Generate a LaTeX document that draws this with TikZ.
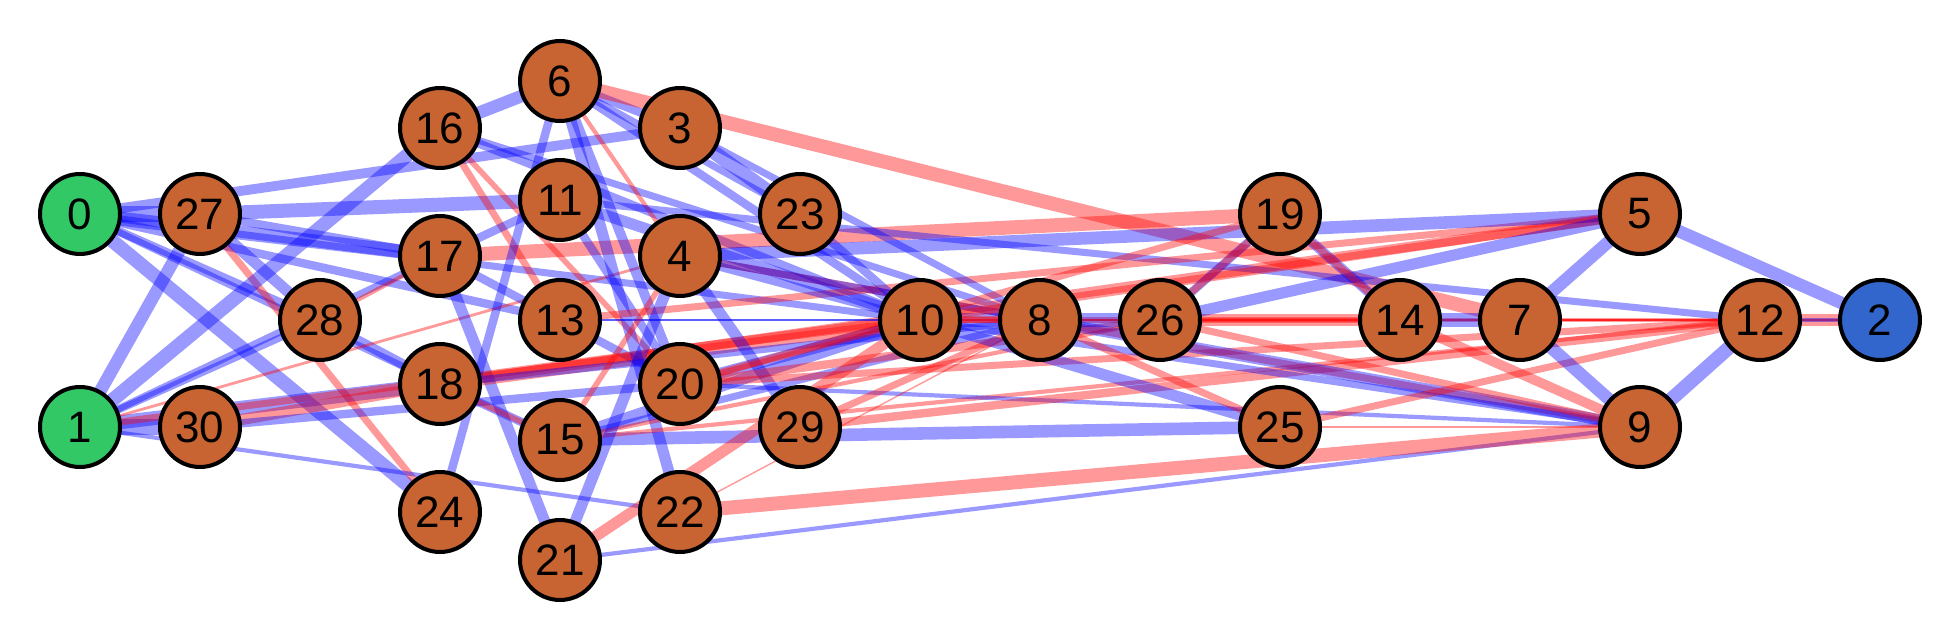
\documentclass[tikz,border=0pt]{standalone}
\usepackage{fontspec}
\setmainfont{Liberation Sans}
\pgfdeclarelayer{bg}
\pgfsetlayers{bg,main}
\definecolor{nodeor}{RGB}{200,100,50}
\definecolor{nodegr}{RGB}{51,200,102}
\definecolor{nodebl}{RGB}{51,102,204}
\tikzset{
  vtx/.style={circle, draw=black, line width=2pt, minimum size=40pt, inner sep=0pt, fill=nodeor, font=\fontsize{22}{24}\selectfont},
  src/.style={vtx, fill=nodegr},
  snk/.style={vtx, fill=nodebl},
  eb/.style={draw=blue, draw opacity=0.4, line width=#1*0.7pt},
  er/.style={draw=red, draw opacity=0.4, line width=#1*0.7pt}
}
\begin{document}
\begin{tikzpicture}[x=0.5pt,y=-0.5pt]
\useasboundingbox (0,0) rectangle (1960,640);
% nodes
\node[src] (n0) at (80,214) {0};
\node[src] (n1) at (80,427) {1};
\node[vtx] (n27) at (200,214) {27};
\node[vtx] (n30) at (200,427) {30};
\node[vtx] (n28) at (320,320) {28};
\node[vtx] (n16) at (440,128) {16};
\node[vtx] (n17) at (440,256) {17};
\node[vtx] (n18) at (440,384) {18};
\node[vtx] (n24) at (440,512) {24};
\node[vtx] (n6) at (560,81) {6};
\node[vtx] (n11) at (560,200) {11};
\node[vtx] (n13) at (560,320) {13};
\node[vtx] (n15) at (560,440) {15};
\node[vtx] (n21) at (560,560) {21};
\node[vtx] (n3) at (680,128) {3};
\node[vtx] (n4) at (680,256) {4};
\node[vtx] (n20) at (680,384) {20};
\node[vtx] (n22) at (680,512) {22};
\node[vtx] (n23) at (800,214) {23};
\node[vtx] (n29) at (800,427) {29};
\node[vtx] (n10) at (920,320) {10};
\node[vtx] (n8) at (1040,320) {8};
\node[vtx] (n26) at (1160,320) {26};
\node[vtx] (n19) at (1280,214) {19};
\node[vtx] (n25) at (1280,427) {25};
\node[vtx] (n14) at (1400,320) {14};
\node[vtx] (n7) at (1520,320) {7};
\node[vtx] (n5) at (1640,214) {5};
\node[vtx] (n9) at (1640,427) {9};
\node[vtx] (n12) at (1760,320) {12};
\node[snk] (n2) at (1880,320) {2};
\begin{pgfonlayer}{bg}
% left block
\draw[eb=12] (n0.center) -- (n27.center);
\draw[eb=7] (n0.center) -- (n3.center);
\draw[eb=10] (n27.center) -- (n11.center);
\draw[eb=10] (n0.center) -- (n17.center);
\draw[eb=6] (n27.center) -- (n17.center);
\draw[eb=6] (n0.center) -- (n13.center);
\draw[eb=6] (n0.center) -- (n28.center);
\draw[eb=10] (n0.center) -- (n24.center);
\draw[eb=5] (n0.center) -- (n18.center);
\draw[eb=5] (n0.center) -- (n10.center);
\draw[er=5] (n27.center) -- (n24.center);
\draw[eb=8] (n27.center) -- (n28.center);
\draw[eb=7] (n28.center) -- (n18.center);
\draw[eb=9] (n1.center) -- (n27.center);
\draw[eb=10] (n1.center) -- (n16.center);
\draw[eb=5] (n1.center) -- (n28.center);
\draw[eb=5] (n1.center) -- (n17.center);
\draw[eb=12] (n1.center) -- (n30.center);
\draw[eb=10] (n1.center) -- (n18.center);
\draw[er=8] (n30.center) -- (n18.center);
\draw[er=2] (n1.center) -- (n4.center);
\draw[eb=3] (n1.center) -- (n22.center);
\draw[eb=6] (n30.center) -- (n20.center);
\draw[er=5] (n1.center) -- (n10.center);
\draw[er=3] (n28.center) -- (n17.center);
% 16 / 17 / 18 / 24
\draw[eb=9] (n16.center) -- (n6.center);
\draw[eb=6] (n16.center) -- (n10.center);
\draw[er=5] (n16.center) -- (n13.center);
\draw[er=4] (n16.center) -- (n20.center);
\draw[eb=5] (n16.center) -- (n8.center);
\draw[eb=6] (n17.center) -- (n11.center);
\draw[er=10] (n17.center) -- (n19.center);
\draw[eb=8] (n17.center) -- (n21.center);
\draw[eb=6] (n17.center) -- (n20.center);
\draw[eb=6] (n18.center) -- (n15.center);
\draw[er=4] (n18.center) -- (n15.center);
\draw[er=10] (n18.center) -- (n10.center);
\draw[er=7] (n18.center) -- (n5.center);
\draw[eb=5] (n18.center) -- (n8.center);
\draw[eb=6] (n24.center) -- (n6.center);
% 6 / 11 / 13 / 15 / 21
\draw[eb=6] (n6.center) -- (n3.center);
\draw[er=10] (n6.center) -- (n7.center);
\draw[eb=8] (n6.center) -- (n22.center);
\draw[er=3] (n6.center) -- (n4.center);
\draw[eb=6] (n6.center) -- (n10.center);
\draw[eb=5] (n6.center) -- (n23.center);
\draw[eb=7] (n6.center) -- (n20.center);
\draw[eb=8] (n11.center) -- (n10.center);
\draw[eb=6] (n11.center) -- (n20.center);
\draw[eb=5] (n11.center) -- (n12.center);
\draw[eb=2] (n13.center) -- (n10.center);
\draw[eb=1.5] (n13.center) -- (n26.center);
\draw[er=5] (n13.center) -- (n5.center);
\draw[eb=8] (n15.center) -- (n10.center);
\draw[eb=5] (n15.center) -- (n8.center);
\draw[er=4] (n15.center) -- (n4.center);
\draw[eb=9] (n15.center) -- (n25.center);
\draw[er=3] (n15.center) -- (n12.center);
\draw[er=3] (n15.center) -- (n26.center);
\draw[eb=8] (n21.center) -- (n4.center);
\draw[er=8] (n21.center) -- (n10.center);
\draw[eb=3] (n21.center) -- (n9.center);
% 3 / 4 / 20 / 22 / 23 / 29
\draw[eb=9] (n4.center) -- (n5.center);
\draw[eb=6] (n4.center) -- (n10.center);
\draw[eb=8] (n4.center) -- (n29.center);
\draw[er=5] (n4.center) -- (n9.center);
\draw[eb=5] (n4.center) -- (n8.center);
\draw[eb=10] (n3.center) -- (n23.center);
\draw[eb=6] (n23.center) -- (n10.center);
\draw[eb=5] (n3.center) -- (n8.center);
\draw[eb=8] (n20.center) -- (n10.center);
\draw[er=4] (n20.center) -- (n10.center);
\draw[er=6] (n20.center) -- (n26.center);
\draw[er=5] (n20.center) -- (n12.center);
\draw[er=5] (n20.center) -- (n19.center);
\draw[eb=3] (n20.center) -- (n9.center);
\draw[er=10] (n22.center) -- (n9.center);
\draw[er=1] (n22.center) -- (n8.center);
\draw[er=6] (n29.center) -- (n12.center);
\draw[er=5] (n29.center) -- (n8.center);
% middle and right
\draw[eb=10] (n10.center) -- (n8.center);
\draw[er=5] (n10.center) -- (n8.center);
\draw[eb=8] (n10.center) -- (n25.center);
\draw[eb=5] (n10.center) -- (n9.center);
\draw[er=4] (n10.center) -- (n14.center);
\draw[er=6] (n10.center) -- (n5.center);
\draw[er=2] (n10.center) -- (n2.center);
\draw[eb=10] (n8.center) -- (n26.center);
\draw[er=5] (n8.center) -- (n25.center);
\draw[eb=8] (n8.center) -- (n9.center);
\draw[er=2] (n8.center) -- (n2.center);
\draw[eb=6] (n26.center) -- (n19.center);
\draw[er=5] (n26.center) -- (n19.center);
\draw[er=8] (n26.center) -- (n14.center);
\draw[eb=8] (n26.center) -- (n5.center);
\draw[er=5] (n26.center) -- (n9.center);
\draw[er=3] (n26.center) -- (n12.center);
\draw[eb=7] (n19.center) -- (n14.center);
\draw[er=5] (n19.center) -- (n14.center);
\draw[eb=10] (n14.center) -- (n7.center);
\draw[er=7] (n14.center) -- (n9.center);
\draw[er=5] (n25.center) -- (n12.center);
\draw[er=2] (n25.center) -- (n9.center);
\draw[eb=9] (n7.center) -- (n5.center);
\draw[eb=9] (n7.center) -- (n9.center);
\draw[er=2] (n7.center) -- (n12.center);
\draw[eb=9] (n5.center) -- (n2.center);
\draw[eb=10] (n12.center) -- (n9.center);
\draw[er=8] (n12.center) -- (n2.center);
\draw[eb=3] (n12.center) -- (n2.center);
\end{pgfonlayer}
\end{tikzpicture}
\end{document}
